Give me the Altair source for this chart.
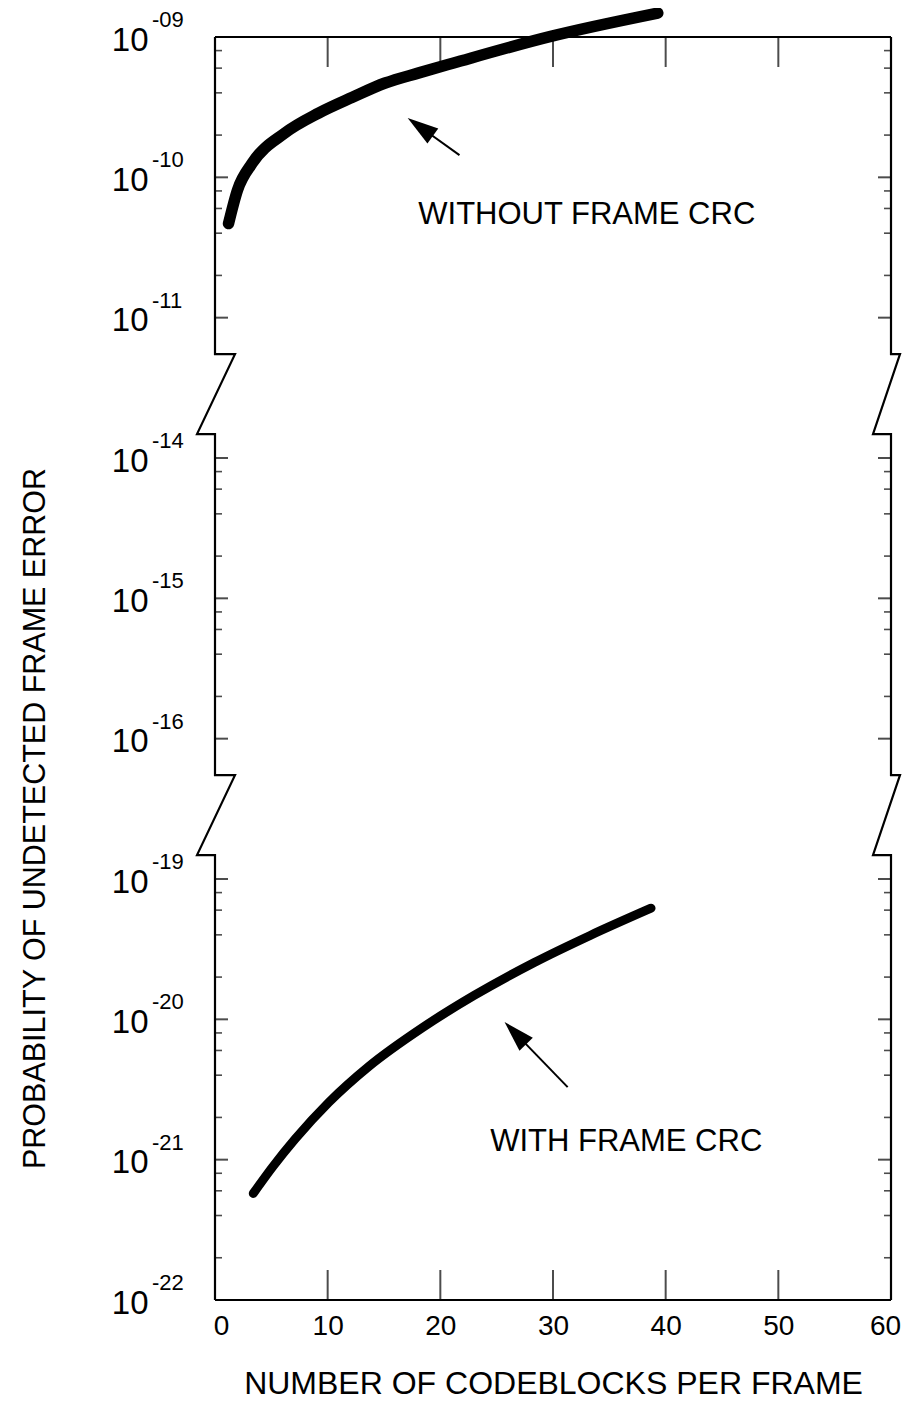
import math
import altair as alt
import numpy as np
import pandas as pd

# ---------------- values ----------------
x_without = [1.2, 2.0, 3.3, 6.2, 9.2, 12.2, 15.1, 18.1, 21.1, 29.8, 39.3]
p_without = [4.68e-11, 8.13e-11, 1.26e-10, 2.07e-10, 2.87e-10, 3.72e-10,
             4.70e-10, 5.55e-10, 6.50e-10, 1.01e-09, 1.48e-09]

x_with = [3.4, 5.1, 7.1, 10.1, 13.7, 18.4, 23.0, 28.3, 33.3, 38.7]
p_with = [5.75e-22, 8.85e-22, 1.40e-21, 2.56e-21, 4.65e-21, 8.71e-21,
          1.48e-20, 2.53e-20, 3.96e-20, 6.19e-20]

x_tick_values = [0, 10, 20, 30, 40, 50, 60]
x_inner_ticks = [10, 20, 30, 40, 50]

# broken log axis: three displayed segments (exponent ranges) and the shift closing each gap
seg_top_exp = [-9, -14, -19]
seg_bottom_exp = [-11, -16, -22]
seg_shift = [0, 2, 4]
y_exp_labels = ["-09", "-10", "-11", "-14", "-15", "-16", "-19", "-20", "-21", "-22"]
minor_mantissa = [2, 4, 6, 8]

annot_text = ["WITHOUT FRAME CRC", "WITH FRAME CRC"]
annot_x = [33.0, 36.5]
annot_p = [5.4e-11, 1.33e-21]
annot_seg = [0, 2]

arrow_tail_x = [21.7, 31.3]
arrow_tail_p = [1.44e-10, 3.29e-21]
arrow_tip_x = [17.1, 25.7]
arrow_tip_p = [2.65e-10, 9.57e-21]
arrow_seg = [0, 2]

# ---------------- layout / style ----------------
FONT = "Liberation Sans"
W, H = 676, 1263
X_MIN, X_MAX = 0, 60
V_TOP, V_BOT = -9, -18
PX_X = W / (X_MAX - X_MIN)
PX_Y = H / (V_TOP - V_BOT)


def virt(p, seg):
    return math.log10(p) + seg_shift[seg]


xs = alt.Scale(domain=[X_MIN, X_MAX], nice=False, zero=False)
ys = alt.Scale(domain=[V_BOT, V_TOP], nice=False, zero=False)

major_v = []
for s in range(3):
    for e in range(seg_top_exp[s], seg_bottom_exp[s] - 1, -1):
        major_v.append(e + seg_shift[s])
minor_v = []
for s in range(3):
    for e in range(seg_top_exp[s] - 1, seg_bottom_exp[s] - 1, -1):
        for m in minor_mantissa:
            minor_v.append(e + math.log10(m) + seg_shift[s])

x_axis = alt.Axis(values=x_tick_values, format="d", ticks=False, domain=False, grid=False,
                  labelFontSize=28, labelFont=FONT, labelColor="black", labelPadding=12,
                  labelFlush=False,
                  labelOffset={"condition": [{"test": "datum.value === 0", "value": 6},
                                             {"test": "datum.value === 60", "value": -6}],
                               "value": 0},
                  title="NUMBER OF CODEBLOCKS PER FRAME", titleFont=FONT, titleFontSize=32,
                  titleFontWeight="normal", titleColor="black", titlePadding=28)
y_axis = alt.Axis(values=major_v, labelExpr="'10'", ticks=False, domain=False, grid=False,
                  labelFontSize=33, labelFont=FONT, labelColor="black", labelPadding=67,
                  labelBaseline="middle", labelOffset=3,
                  title="PROBABILITY OF UNDETECTED FRAME ERROR", titleFont=FONT,
                  titleFontSize=30.5, titleFontWeight="normal", titleColor="black",
                  titleX=-180, titleY=781, titleAngle=270, titleAlign="center",
                  titleBaseline="middle")

XE = alt.X("x:Q", scale=xs, axis=x_axis)
YE = alt.Y("v:Q", scale=ys, axis=y_axis)

# ---------------- frame with axis breaks ----------------
gaps = []
for s in range(2):
    g_top = seg_bottom_exp[s] + seg_shift[s] - 0.26
    g_bot = seg_top_exp[s + 1] + seg_shift[s + 1] + 0.17
    gaps.append((g_top, g_bot))
rows = []
for side, x0, out_px in (("L", X_MIN, 20), ("R", X_MAX, 9)):
    out_u = out_px / PX_X
    back_u = 18 / PX_X
    pts = [(x0, V_TOP)]
    for g_top, g_bot in gaps:
        pts += [(x0, g_top), (x0 + out_u, g_top), (x0 - back_u, g_bot), (x0, g_bot)]
    pts.append((x0, V_BOT))
    for i, (px, pv) in enumerate(pts):
        rows.append({"path": side, "o": i, "x": px, "v": pv})
for name, vv in (("T", V_TOP), ("B", V_BOT)):
    rows.append({"path": name, "o": 0, "x": X_MIN, "v": vv})
    rows.append({"path": name, "o": 1, "x": X_MAX, "v": vv})
frame_df = pd.DataFrame(rows)

frame = alt.Chart(frame_df).mark_line(color="black", strokeWidth=2.2, clip=False).encode(
    x=XE, y=YE, detail="path:N", order="o:Q")

# ---------------- ticks ----------------
def tick_df(xval, vals):
    return pd.DataFrame({"x": [xval] * len(vals), "v": vals})

tick_layers = []
for xval, sign in ((X_MIN, 1), (X_MAX, -1)):
    tick_layers.append(alt.Chart(tick_df(xval, major_v)).mark_tick(
        orient="horizontal", size=13, thickness=2, color="black", xOffset=sign * 6.5).encode(x=XE, y=YE))
    tick_layers.append(alt.Chart(tick_df(xval, minor_v)).mark_tick(
        orient="horizontal", size=7, thickness=1.6, color="black", xOffset=sign * 3.5).encode(x=XE, y=YE))
for vval, sign in ((V_TOP, 1), (V_BOT, -1)):
    d = pd.DataFrame({"x": x_inner_ticks, "v": [vval] * len(x_inner_ticks)})
    tick_layers.append(alt.Chart(d).mark_tick(
        orient="vertical", size=30, thickness=2, color="black", yOffset=sign * 15).encode(x=XE, y=YE))

# superscript exponents of the y labels
sup_df = pd.DataFrame({"x": [X_MIN] * len(major_v), "v": major_v, "t": y_exp_labels})
sup = alt.Chart(sup_df).mark_text(align="left", baseline="alphabetic", dx=-63, dy=-10,
                                  fontSize=22, font=FONT, color="black").encode(
    x=XE, y=YE, text="t:N")

# ---------------- curves ----------------
c1 = pd.DataFrame({"x": x_without, "v": [virt(p, 0) for p in p_without]})
c2 = pd.DataFrame({"x": x_with, "v": [virt(p, 2) for p in p_with]})
line1 = alt.Chart(c1).mark_line(color="black", strokeWidth=11.5, strokeCap="round",
                                interpolate="monotone", clip=False).encode(x=XE, y=YE)
line2 = alt.Chart(c2).mark_line(color="black", strokeWidth=9, strokeCap="round",
                                interpolate="monotone", clip=False).encode(x=XE, y=YE)

# ---------------- arrows and annotations ----------------
HEAD_L = 31
arows = []
for i in range(2):
    tx, tv = arrow_tail_x[i], virt(arrow_tail_p[i], arrow_seg[i])
    hx, hv = arrow_tip_x[i], virt(arrow_tip_p[i], arrow_seg[i])
    dxp = (hx - tx) * PX_X
    dyp = -(hv - tv) * PX_Y
    ln = math.hypot(dxp, dyp)
    ux, uy = dxp / ln, dyp / ln
    cx = hx - (HEAD_L / 2) * ux / PX_X
    cv = hv + (HEAD_L / 2) * uy / PX_Y
    ang = math.degrees(math.atan2(ux, -uy)) % 360
    arows.append({"x": tx, "v": tv, "x2": cx, "v2": cv, "hx": cx, "hv": cv, "ang": ang})
arrow_df = pd.DataFrame(arows)
shafts = alt.Chart(arrow_df).mark_rule(color="black", strokeWidth=2).encode(
    x=XE, y=YE, x2="x2:Q", y2="v2:Q")
heads = alt.Chart(arrow_df).mark_point(
    shape="M0,-1L-0.6,1L0.6,1Z", filled=True, color="black", opacity=1,
    size=HEAD_L * HEAD_L, strokeWidth=0).encode(
    x=alt.X("hx:Q", scale=xs, axis=x_axis), y=alt.Y("hv:Q", scale=ys, axis=y_axis),
    angle=alt.Angle("ang:Q", scale=None))

ann_df = pd.DataFrame({"x": annot_x, "v": [virt(p, s) for p, s in zip(annot_p, annot_seg)],
                       "t": annot_text})
ann = alt.Chart(ann_df).mark_text(fontSize=31, font=FONT, color="black", align="center",
                                  baseline="middle").encode(x=XE, y=YE, text="t:N")

chart = alt.layer(frame, *tick_layers, sup, line1, line2, shafts, heads, ann).properties(
    width=W, height=H,
    autosize=alt.AutoSizeParams(type="none"),
    padding={"left": 207, "top": 29, "right": 11, "bottom": 103},
    background="white",
).configure_view(stroke=None)

chart.save("out.html", embed_options={"renderer": "svg", "actions": False})
